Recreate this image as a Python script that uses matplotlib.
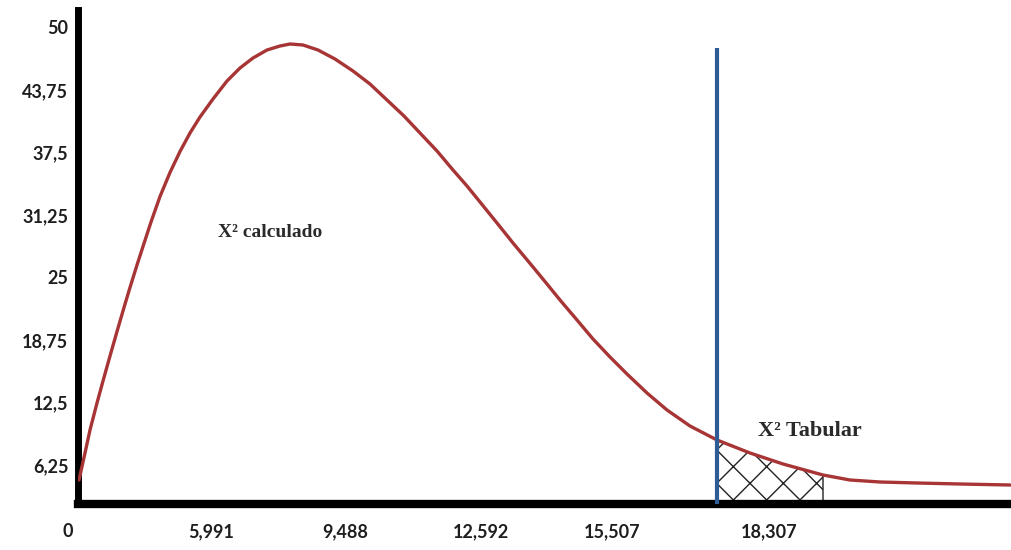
import matplotlib
matplotlib.use("Agg")
import matplotlib.pyplot as plt
import numpy as np

# curve (x in drawing units, y in axis units)
curve_x = [0.1, 0.7, 1.2, 1.9, 2.5, 3.2, 3.9, 4.6, 5.2, 5.9, 6.5, 7.3, 8.2,
           9.2, 10.2, 11.2, 12.2, 13.5, 14.9, 16.2, 17.5, 18.9, 20.2, 21.2,
           22.5, 24.0, 25.7, 27.5, 29.2, 30.9, 32.6, 34.2, 35.9, 37.5, 38.9,
           40.2, 41.9, 43.5, 45.5, 46.9, 48.2, 49.9, 51.5, 53.2, 54.9, 56.9,
           58.9, 61.2, 63.9, 67.2, 70.5, 74.5, 77.2, 80.2, 83.9, 88.2, 93.2]
curve_y = [4.75, 7.45, 9.75, 12.45, 14.65, 17.15, 19.6, 22.0, 24.0, 26.25,
           28.1, 30.55, 33.1, 35.5, 37.6, 39.45, 41.05, 42.85, 44.65,
           45.95, 46.95, 47.75, 48.15, 48.35, 48.25, 47.75, 46.85, 45.65,
           44.35, 42.75, 41.15, 39.45, 37.65, 35.75, 34.15, 32.55, 30.45,
           28.45, 26.05, 24.35, 22.75, 20.75, 18.85, 17.05, 15.35, 13.45,
           11.75, 10.15, 8.75, 7.45, 6.35, 5.25, 4.75, 4.55, 4.45, 4.35, 4.25]

x_crit = 63.9          # vertical line (X2 tabular)
x_hatch_end = 74.5     # end of the hatched tail
crit_top = 48.0
y_base = 2.35

y_ticks = [6.25, 12.5, 18.75, 25, 31.25, 37.5, 43.75, 50]
y_labels = ["6,25", "12,5", "18,75", "25", "31,25", "37,5", "43,75", "50"]

x_tick_pos = [13.3, 26.7, 40.3, 53.4, 69.1]
x_tick_labels = ["5,991", "9,488", "12,592", "15,507", "18,307"]

plt.rcParams['hatch.linewidth'] = 1.0

fig = plt.figure(figsize=(10.11, 5.5), dpi=100)
ax = fig.add_axes([78 / 1011, 46 / 550, 1 - 78 / 1011, 494 / 550])
ax.set_xlim(0, 93.3)
ax.set_ylim(y_base, 51.75)

cx = np.array(curve_x)
cy = np.array(curve_y)
mask = (cx >= x_crit) & (cx <= x_hatch_end)
ax.fill_between(cx[mask], y_base, cy[mask], facecolor="none", edgecolor="#222222",
                hatch="x", linewidth=1.0)

ax.plot(cx, cy, color="#a83535", linewidth=2.4, solid_capstyle="round",
        solid_joinstyle="round", zorder=3)
ax.vlines(x_crit, y_base, crit_top, color="#2f5b96", linewidth=3.0, zorder=4)

for side in ["top", "right"]:
    ax.spines[side].set_visible(False)
ax.spines["left"].set_linewidth(5)
ax.spines["bottom"].set_linewidth(6)

tick_font = dict(family="Lato", weight="bold", size=13)
ax.set_yticks(y_ticks)
ax.set_yticklabels(y_labels, color="#1e1e1e", **tick_font)
ax.set_xticks(x_tick_pos)
ax.set_xticklabels(x_tick_labels, color="#1e1e1e", **tick_font)
ax.tick_params(axis="y", length=0, pad=7)
ax.tick_params(axis="x", length=0, pad=14)

ax.annotate("0", xy=(-1.0, 0), xycoords=("data", "axes fraction"),
            xytext=(0, -14), textcoords="offset points", ha="center", va="top",
            color="#1e1e1e", annotation_clip=False, **tick_font)

ax.text(14.0, 29.5, "X² calculado", family="Liberation Serif",
        weight="bold", size=14, color="#2a2a2a", va="center")
ax.text(68.0, 9.6, "X² Tabular", family="Liberation Serif",
        weight="bold", size=16, color="#2a2a2a", va="center")

fig.savefig("out.png", dpi=100)
